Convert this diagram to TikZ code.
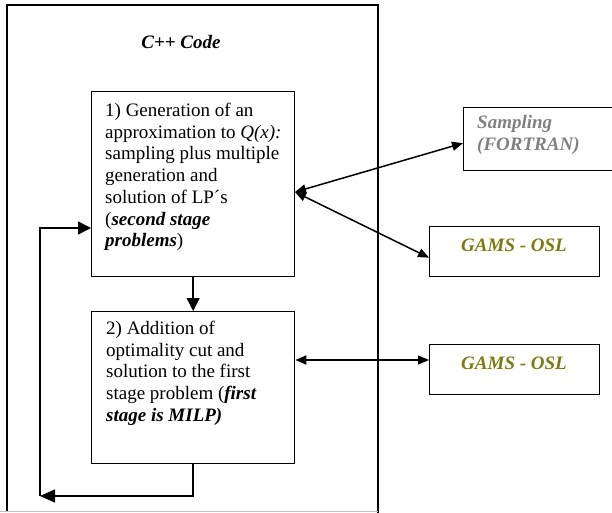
\documentclass[tikz,border=0pt]{standalone}
\usepackage{fontspec}
\setmainfont{Liberation Serif}
\usetikzlibrary{arrows.meta}
\definecolor{sampgray}{RGB}{128,128,128}
\definecolor{gamsolive}{RGB}{122,122,16}
\begin{document}
\begin{tikzpicture}[x=1pt,y=-1pt,
  box/.style={draw, line width=1.3pt, minimum width=#1, anchor=north west, inner sep=0pt},
  body/.style={anchor=north west, align=left, inner sep=0pt, font=\fontsize{19}{21.7}\selectfont},
  lbl/.style={inner sep=0pt, font=\fontsize{19}{22.5}\selectfont\bfseries\itshape},
  conn/.style={line width=1.5pt},
  bigtip/.style={-{Triangle[length=13pt,width=13pt]}},
  dbl/.style={{Triangle[length=11pt,width=9pt]}-{Triangle[length=11pt,width=9pt]}}
]
\useasboundingbox (0,0) rectangle (612,513);
% outer C++ box
\draw[line width=1.3pt] (7,511) -- (7,5) -- (378,5) -- (378,513);
\draw[line width=0.8pt, black!25] (0,511) -- (378,511);
\node[lbl] (title) at (181,42) {C++ Code};
% boxes
\node[box=203pt, minimum height=185pt] (b1) at (91,91) {};
\node[box=203pt, minimum height=152pt] (b2) at (91,311) {};
\node[box=149pt, minimum height=63pt] (samp) at (463,107) {};
\node[box=170pt, minimum height=50pt] (g1) at (429,226) {};
\node[box=170pt, minimum height=50pt] (g2) at (429,344) {};
% texts
\node[body] (t1) at (105,103) {1) Generation of an\\approximation to \textit{Q(x):}\\sampling plus multiple\\generation and\\solution of LP´s\\(\textbf{\textit{second stage}}\\\textbf{\textit{problems}})};
\node[body] (t2) at (106,321) {2) Addition of\\optimality cut and\\solution to the first\\stage problem (\textbf{\textit{first}}\\\textbf{\textit{stage is MILP)}}};
\node[lbl, anchor=north west, align=left, text=sampgray] (ts) at (477,115) {Sampling\\(FORTRAN)};
\node[lbl, text=gamsolive] (tg1) at (514,245) {GAMS - OSL};
\node[lbl, text=gamsolive] (tg2) at (514,363) {GAMS - OSL};
% connectors
\coordinate (m) at (295,192);
\coordinate (h) at (0,360);
\coordinate (lb) at (40,496);
\coordinate (lt) at (40,228);
\draw[conn, bigtip] (b1.south) -- (b2.north);
\draw[conn, dbl] (m) -- ([yshift=-4pt]samp.west);
\draw[conn, dbl] (m) -- ([yshift=-6pt]g1.west);
\draw[conn, dbl] (b2.east |- h) -- (g2.west |- h);
\draw[conn, -{Triangle[length=15pt,width=13pt]}] (b2.south) |- (lb);
\draw[conn, bigtip] (lb) -- (lt) -- (b1.west |- lt);
\end{tikzpicture}
\end{document}
